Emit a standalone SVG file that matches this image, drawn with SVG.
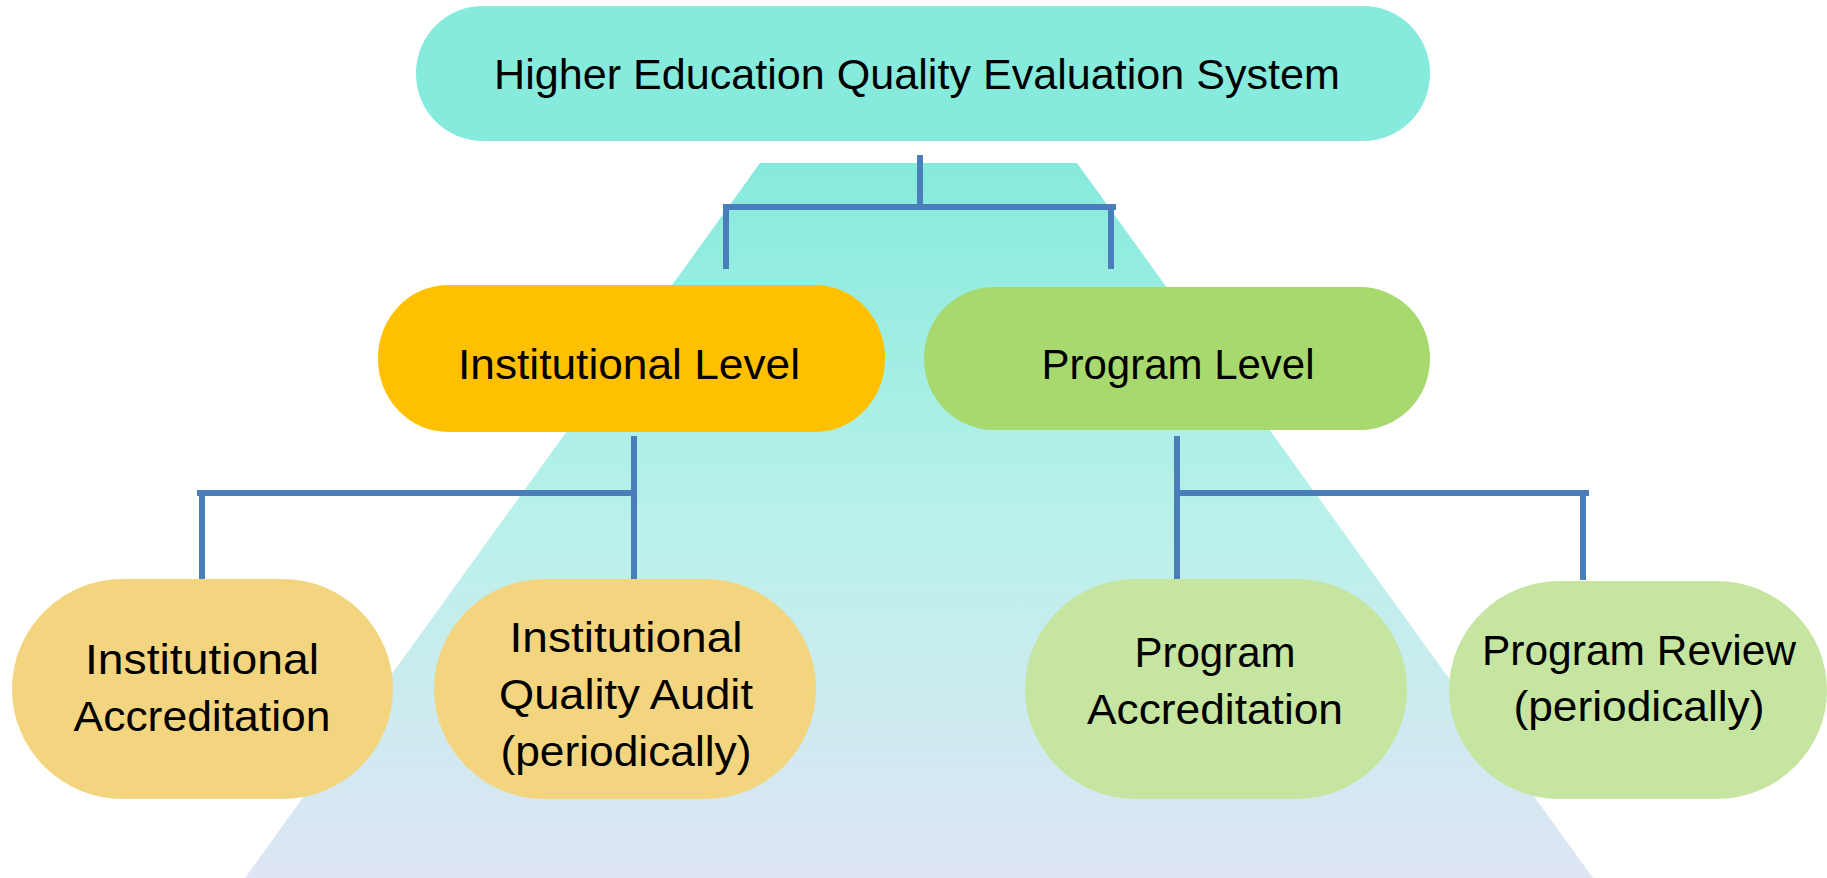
<svg xmlns="http://www.w3.org/2000/svg" width="1827" height="878" viewBox="0 0 1827 878">
<defs>
<linearGradient id="trap" x1="0" y1="163" x2="0" y2="878" gradientUnits="userSpaceOnUse">
<stop offset="0" stop-color="#86EADC"/>
<stop offset="0.5" stop-color="#B9F1EA"/>
<stop offset="1" stop-color="#DEE5F4"/>
</linearGradient>
<style>
.t{font-family:"Liberation Sans",Arial,sans-serif;font-size:42px;fill:#000;text-anchor:middle}
.c{stroke:#4A7EBB;stroke-width:6;fill:none}
</style>
</defs>
<rect width="1827" height="878" fill="#FFFFFF"/>
<polygon points="760,163 1077,163 1593,878 245,878" fill="url(#trap)"/>
<g id="connectors">
<path class="c" d="M920,155 V207 M723,207 H1116 M726,207 V269 M1111,207 V269"/>
<path class="c" d="M634,436 V580 M197,493 H637 M202,493 V580"/>
<path class="c" d="M1177,436 V580 M1174,493 H1589 M1583,493 V580"/>
</g>
<g id="top">
<rect x="416" y="6" width="1014" height="135" rx="67" ry="67" fill="#86EADC"/>
<text class="t" x="917" y="89" textLength="846" lengthAdjust="spacingAndGlyphs">Higher Education Quality Evaluation System</text>
</g>
<g id="institutional-level">
<rect x="378" y="285" width="507" height="147" rx="70" ry="73" fill="#FFC000"/>
<text class="t" x="629" y="379" textLength="342" lengthAdjust="spacingAndGlyphs">Institutional Level</text>
</g>
<g id="program-level">
<rect x="924" y="287" width="506" height="143" rx="70" ry="71" fill="#A8D96E"/>
<text class="t" x="1178" y="379" textLength="273" lengthAdjust="spacingAndGlyphs">Program Level</text>
</g>
<g id="institutional-accreditation">
<rect x="12" y="579" width="381" height="220" rx="111" ry="110" fill="#F4D57F"/>
<text class="t" x="202" y="674" textLength="234" lengthAdjust="spacingAndGlyphs">Institutional</text>
<text class="t" x="202" y="731" textLength="257" lengthAdjust="spacingAndGlyphs">Accreditation</text>
</g>
<g id="institutional-quality-audit">
<rect x="434" y="579" width="382" height="220" rx="111" ry="110" fill="#F4D57F"/>
<text class="t" x="626" y="652" textLength="233" lengthAdjust="spacingAndGlyphs">Institutional</text>
<text class="t" x="626" y="709" textLength="254" lengthAdjust="spacingAndGlyphs">Quality Audit</text>
<text class="t" x="626" y="766" textLength="251" lengthAdjust="spacingAndGlyphs">(periodically)</text>
</g>
<g id="program-accreditation">
<rect x="1025" y="579" width="382" height="220" rx="111" ry="110" fill="#C5E5A0"/>
<text class="t" x="1215" y="667" textLength="161" lengthAdjust="spacingAndGlyphs">Program</text>
<text class="t" x="1215" y="724" textLength="256" lengthAdjust="spacingAndGlyphs">Accreditation</text>
</g>
<g id="program-review">
<rect x="1449" y="581" width="378" height="218" rx="111" ry="109" fill="#C5E5A0"/>
<text class="t" x="1639" y="665" textLength="314" lengthAdjust="spacingAndGlyphs">Program Review</text>
<text class="t" x="1639" y="721" textLength="251" lengthAdjust="spacingAndGlyphs">(periodically)</text>
</g>
</svg>
